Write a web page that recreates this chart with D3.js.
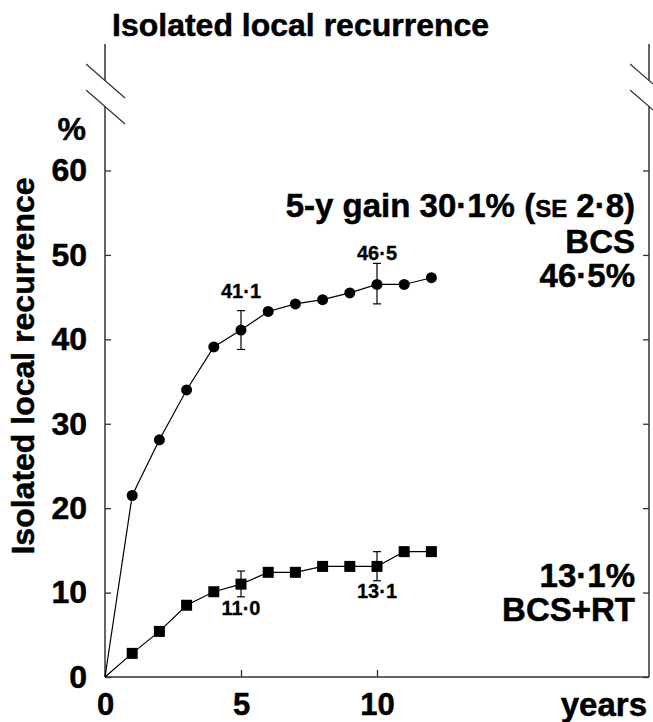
<!DOCTYPE html>
<html><head><meta charset="utf-8">
<script src="https://cdn.jsdelivr.net/npm/d3@7"></script>
<style>
body{margin:0;background:#fff}
text{font-family:"Liberation Sans",Arial,Helvetica,sans-serif;font-weight:bold;fill:#000}
.big{stroke:#000;stroke-width:0.5px}
</style>
</head><body>
<svg id="c" width="653" height="722"></svg>
<script>
// ---- data ----
const years = [0,1,2,3,4,5,6,7,8,9,10,11,12];
const bcs   = [0,21.5,28.1,34.0,39.1,41.1,43.3,44.2,44.7,45.5,46.5,46.5,47.3];
const bcsRt = [0,2.8,5.4,8.5,10.1,11.0,12.4,12.4,13.1,13.1,13.1,14.85,14.85];
const errYears   = [5,10];
const bcsErrLow  = [38.8,44.2];
const bcsErrHigh = [43.4,49.0];
const rtErrLow   = [9.5,11.4];
const rtErrHigh  = [12.55,14.85];
const bcsLabels  = ["41·1","46·5"];
const rtLabels   = ["11·0","13·1"];
const yTicks = [0,10,20,30,40,50,60];
const xTicks = [0,5,10];
const rightTop = ["BCS","46·5%"];
const rightBottom = ["13·1%","BCS+RT"];

// ---- layout ----
const svg = d3.select("#c");
const L=105, R=649, B=677, T=170.5, AX_TOP=44;
const x = d3.scaleLinear().domain([0,20]).range([L,R]);
const y = d3.scaleLinear().domain([0,60]).range([B,T]);

// title
svg.append("text").attr("class","big").attr("x",112).attr("y",36).style("font-size","32px").text("Isolated local recurrence");

// y label
svg.append("text").attr("class","big").attr("transform","translate(34,366) rotate(-90)").attr("text-anchor","middle")
  .style("font-size","32px").text("Isolated local recurrence");

// % sign
svg.append("text").attr("class","big").attr("x",86).attr("y",140).attr("text-anchor","end").style("font-size","32px").text("%");

// axes lines with break
const axCol="#333";
function vAxis(px){
  svg.append("line").attr("x1",px).attr("x2",px).attr("y1",AX_TOP).attr("y2",81).attr("stroke",axCol).attr("stroke-width",1.5);
  svg.append("line").attr("x1",px).attr("x2",px).attr("y1",106).attr("y2",B).attr("stroke",axCol).attr("stroke-width",1.5);
  [64,90].forEach(s=>{
    svg.append("line").attr("x1",px-19).attr("y1",s).attr("x2",px+20).attr("y2",s+34)
      .attr("stroke",axCol).attr("stroke-width",1.2);
  });
}
vAxis(L); vAxis(R);
svg.append("line").attr("x1",L).attr("x2",R).attr("y1",B).attr("y2",B).attr("stroke",axCol).attr("stroke-width",1.5);

// left axis ticks + labels
const gl = svg.append("g").attr("transform",`translate(${L},0)`)
  .call(d3.axisLeft(y).tickValues(yTicks).tickSizeInner(-6).tickSizeOuter(0).tickPadding(18).tickFormat(d3.format("d")));
gl.select(".domain").remove();
gl.selectAll("line").attr("stroke",axCol).attr("stroke-width",1.3);
gl.selectAll("text").attr("class","big").style("font-size","32px").attr("fill","#000");

// right axis ticks
const gr = svg.append("g").attr("transform",`translate(${R},0)`)
  .call(d3.axisRight(y).tickValues(yTicks).tickSizeInner(-6).tickSizeOuter(0).tickFormat(""));
gr.select(".domain").remove();
gr.selectAll("line").attr("stroke",axCol).attr("stroke-width",1.3);

// bottom axis
const gb = svg.append("g").attr("transform",`translate(0,${B})`)
  .call(d3.axisBottom(x).tickValues(xTicks).tickSizeInner(-7).tickSizeOuter(0).tickPadding(16).tickFormat(d3.format("d")));
gb.select(".domain").remove();
gb.selectAll("line").attr("stroke",axCol).attr("stroke-width",1.3);
gb.selectAll("text").attr("class","big").style("font-size","31px").attr("fill","#000");

svg.append("text").attr("class","big").attr("x",647).attr("y",716).attr("text-anchor","end").style("font-size","33px").text("years");

// lines
const line = d3.line().x((d,i)=>x(years[i])).y(d=>y(d));
svg.append("path").datum(bcs).attr("d",line).attr("fill","none").attr("stroke","#000").attr("stroke-width",1.2);
svg.append("path").datum(bcsRt).attr("d",line).attr("fill","none").attr("stroke","#000").attr("stroke-width",1.2);

// error bars
function errBars(lo,hi){
  errYears.forEach((yr,i)=>{
    const px=x(yr);
    svg.append("line").attr("x1",px).attr("x2",px).attr("y1",y(lo[i])).attr("y2",y(hi[i])).attr("stroke","#000").attr("stroke-width",1.2);
    [lo[i],hi[i]].forEach(v=>svg.append("line").attr("x1",px-4).attr("x2",px+4).attr("y1",y(v)).attr("y2",y(v)).attr("stroke","#000").attr("stroke-width",1.2));
  });
}
errBars(bcsErrLow,bcsErrHigh);
errBars(rtErrLow,rtErrHigh);

// markers
svg.append("g").selectAll("circle").data(bcs.slice(1)).join("circle")
  .attr("cx",(d,i)=>x(years[i+1])).attr("cy",d=>y(d)).attr("r",5.5).attr("fill","#000");
svg.append("g").selectAll("rect").data(bcsRt.slice(1)).join("rect")
  .attr("x",(d,i)=>x(years[i+1])-5.5).attr("y",d=>y(d)-5.5).attr("width",11).attr("height",11).attr("fill","#000");

// data labels
const bcsOff=[-13,-3.5];
bcsLabels.forEach((t,i)=>svg.append("text").attr("x",x(errYears[i])).attr("y",y(bcsErrHigh[i])+bcsOff[i])
  .attr("text-anchor","middle").style("font-size","20px").style("stroke","#000").style("stroke-width","0.3px").text(t));
const rtOff=[18.5,17];
rtLabels.forEach((t,i)=>svg.append("text").attr("x",x(errYears[i])).attr("y",y(rtErrLow[i])+rtOff[i])
  .attr("text-anchor","middle").style("font-size","20px").style("stroke","#000").style("stroke-width","0.3px").text(t));

// right annotations
const g5 = svg.append("text").attr("class","big").attr("x",635).attr("y",217).attr("text-anchor","end").style("font-size","33px");
g5.append("tspan").text("5-y gain 30·1% (");
g5.append("tspan").style("font-size","24px").text("SE");
g5.append("tspan").text(" 2·8)");
rightTop.forEach((t,i)=>svg.append("text").attr("class","big").attr("x",635).attr("y",253+i*34).attr("text-anchor","end").style("font-size","33px").text(t));
rightBottom.forEach((t,i)=>svg.append("text").attr("class","big").attr("x",635).attr("y",587+i*34).attr("text-anchor","end").style("font-size","33px").text(t));
</script>
</body></html>
